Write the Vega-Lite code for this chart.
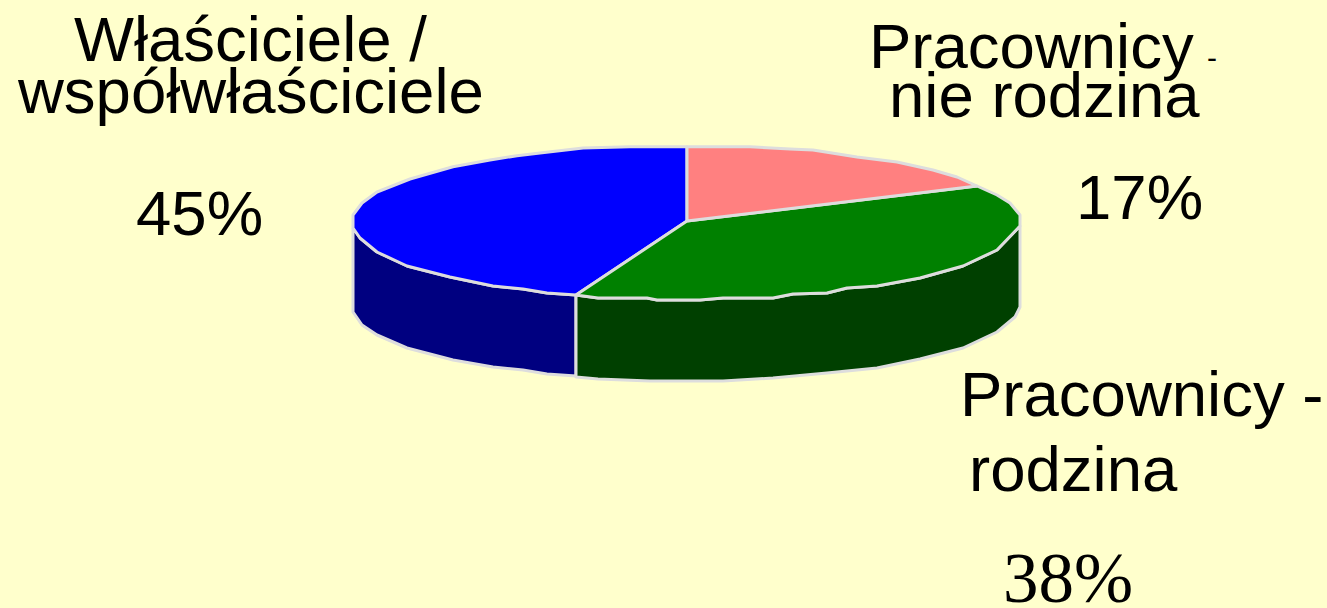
{"$schema":"https://vega.github.io/schema/vega-lite/v6.json","width":1327,"height":608,"padding":0,"autosize":{"type":"none"},"background":"#FFFFCC","view":{"stroke":null},"layer":[{"data":{"values":[
{"part":"a blue side","i":1,"x":353,"y":228},{"part":"a blue side","i":2,"x":360,"y":238},{"part":"a blue side","i":3,"x":377,"y":252},{"part":"a blue side","i":4,"x":407,"y":266},{"part":"a blue side","i":5,"x":450,"y":277},{"part":"a blue side","i":6,"x":493,"y":286},{"part":"a blue side","i":7,"x":523,"y":289},{"part":"a blue side","i":8,"x":547,"y":293},{"part":"a blue side","i":9,"x":576,"y":295},{"part":"a blue side","i":10,"x":576,"y":376},{"part":"a blue side","i":11,"x":547,"y":374},{"part":"a blue side","i":12,"x":523,"y":370},{"part":"a blue side","i":13,"x":493,"y":367},{"part":"a blue side","i":14,"x":453,"y":360},{"part":"a blue side","i":15,"x":407,"y":348},{"part":"a blue side","i":16,"x":377,"y":335},{"part":"a blue side","i":17,"x":362,"y":325},{"part":"a blue side","i":18,"x":353,"y":312},{"part":"a blue side","i":19,"x":353,"y":228},
{"part":"b green side","i":1,"x":576,"y":295},{"part":"b green side","i":2,"x":598,"y":298},{"part":"b green side","i":3,"x":647,"y":298},{"part":"b green side","i":4,"x":657,"y":300},{"part":"b green side","i":5,"x":700,"y":300},{"part":"b green side","i":6,"x":723,"y":298},{"part":"b green side","i":7,"x":773,"y":298},{"part":"b green side","i":8,"x":793,"y":294},{"part":"b green side","i":9,"x":827,"y":293},{"part":"b green side","i":10,"x":847,"y":288},{"part":"b green side","i":11,"x":877,"y":286},{"part":"b green side","i":12,"x":920,"y":278},{"part":"b green side","i":13,"x":963,"y":266},{"part":"b green side","i":14,"x":997,"y":250},{"part":"b green side","i":15,"x":1020,"y":226},{"part":"b green side","i":16,"x":1020,"y":307},{"part":"b green side","i":17,"x":1015,"y":317},{"part":"b green side","i":18,"x":997,"y":332},{"part":"b green side","i":19,"x":963,"y":348},{"part":"b green side","i":20,"x":920,"y":359},{"part":"b green side","i":21,"x":877,"y":368},{"part":"b green side","i":22,"x":827,"y":373},{"part":"b green side","i":23,"x":773,"y":378},{"part":"b green side","i":24,"x":723,"y":381},{"part":"b green side","i":25,"x":650,"y":381},{"part":"b green side","i":26,"x":598,"y":379},{"part":"b green side","i":27,"x":576,"y":377},{"part":"b green side","i":28,"x":576,"y":295},
{"part":"c blue 45%","i":1,"x":687,"y":221},{"part":"c blue 45%","i":2,"x":576,"y":295},{"part":"c blue 45%","i":3,"x":547,"y":293},{"part":"c blue 45%","i":4,"x":523,"y":289},{"part":"c blue 45%","i":5,"x":493,"y":286},{"part":"c blue 45%","i":6,"x":450,"y":277},{"part":"c blue 45%","i":7,"x":407,"y":266},{"part":"c blue 45%","i":8,"x":377,"y":252},{"part":"c blue 45%","i":9,"x":360,"y":238},{"part":"c blue 45%","i":10,"x":353,"y":228},{"part":"c blue 45%","i":11,"x":353,"y":215},{"part":"c blue 45%","i":12,"x":362,"y":203},{"part":"c blue 45%","i":13,"x":377,"y":192},{"part":"c blue 45%","i":14,"x":410,"y":179},{"part":"c blue 45%","i":15,"x":453,"y":166.7},{"part":"c blue 45%","i":16,"x":490,"y":160},{"part":"c blue 45%","i":17,"x":517,"y":155.7},{"part":"c blue 45%","i":18,"x":540,"y":153},{"part":"c blue 45%","i":19,"x":583,"y":148},{"part":"c blue 45%","i":20,"x":630,"y":146.7},{"part":"c blue 45%","i":21,"x":687,"y":146.7},{"part":"c blue 45%","i":22,"x":687,"y":221},
{"part":"d green 38%","i":1,"x":687,"y":221},{"part":"d green 38%","i":2,"x":977,"y":186},{"part":"d green 38%","i":3,"x":997,"y":195},{"part":"d green 38%","i":4,"x":1010,"y":203},{"part":"d green 38%","i":5,"x":1020,"y":215},{"part":"d green 38%","i":6,"x":1020,"y":226},{"part":"d green 38%","i":7,"x":997,"y":250},{"part":"d green 38%","i":8,"x":963,"y":266},{"part":"d green 38%","i":9,"x":920,"y":278},{"part":"d green 38%","i":10,"x":877,"y":286},{"part":"d green 38%","i":11,"x":847,"y":288},{"part":"d green 38%","i":12,"x":827,"y":293},{"part":"d green 38%","i":13,"x":793,"y":294},{"part":"d green 38%","i":14,"x":773,"y":298},{"part":"d green 38%","i":15,"x":723,"y":298},{"part":"d green 38%","i":16,"x":700,"y":300},{"part":"d green 38%","i":17,"x":657,"y":300},{"part":"d green 38%","i":18,"x":647,"y":298},{"part":"d green 38%","i":19,"x":598,"y":298},{"part":"d green 38%","i":20,"x":576,"y":295},{"part":"d green 38%","i":21,"x":687,"y":221},
{"part":"e pink 17%","i":1,"x":687,"y":221},{"part":"e pink 17%","i":2,"x":687,"y":146.7},{"part":"e pink 17%","i":3,"x":750,"y":146.7},{"part":"e pink 17%","i":4,"x":790,"y":149},{"part":"e pink 17%","i":5,"x":813,"y":150},{"part":"e pink 17%","i":6,"x":857,"y":157},{"part":"e pink 17%","i":7,"x":897,"y":162},{"part":"e pink 17%","i":8,"x":933,"y":170},{"part":"e pink 17%","i":9,"x":957,"y":177},{"part":"e pink 17%","i":10,"x":977,"y":186},{"part":"e pink 17%","i":11,"x":687,"y":221}
]},"mark":{"type":"line","stroke":"#DDDDDD","strokeWidth":3,"strokeJoin":"round","interpolate":"linear"},"encoding":{"x":{"field":"x","type":"quantitative","scale":{"domain":[0,1327],"nice":false,"zero":false},"axis":null},"y":{"field":"y","type":"quantitative","scale":{"domain":[608,0],"nice":false,"zero":false},"axis":null},"order":{"field":"i","type":"quantitative"},"detail":{"field":"part"},"fill":{"field":"part","type":"nominal","legend":null,"scale":{"domain":["a blue side","b green side","c blue 45%","d green 38%","e pink 17%"],"range":["#000080","#004000","#0000FF","#008000","#FF8080"]}}}},
{"data":{"values":[{"t":"Właściciele /","x":74,"y":61},{"t":"współwłaściciele","x":18,"y":113},{"t":"45%","x":136,"y":235},{"t":"Pracownicy","x":869,"y":68},{"t":"nie rodzina","x":889,"y":117},{"t":"17%","x":1076,"y":219},{"t":"Pracownicy -","x":960,"y":416},{"t":"rodzina","x":969,"y":491}]},"mark":{"type":"text","font":"Liberation Sans","fontSize":63.5,"align":"left","baseline":"alphabetic","fill":"#000000"},"encoding":{"x":{"field":"x","type":"quantitative","scale":{"domain":[0,1327],"nice":false,"zero":false},"axis":null},"y":{"field":"y","type":"quantitative","scale":{"domain":[608,0],"nice":false,"zero":false},"axis":null},"text":{"field":"t"}}},
{"data":{"values":[{"t":"-","x":1207,"y":68}]},"mark":{"type":"text","font":"Liberation Sans","fontSize":30,"align":"left","baseline":"alphabetic","fill":"#000000"},"encoding":{"x":{"field":"x","type":"quantitative","scale":{"domain":[0,1327],"nice":false,"zero":false},"axis":null},"y":{"field":"y","type":"quantitative","scale":{"domain":[608,0],"nice":false,"zero":false},"axis":null},"text":{"field":"t"}}},
{"data":{"values":[{"t":"38%","x":1003,"y":602}]},"mark":{"type":"text","font":"Liberation Serif","fontSize":71,"align":"left","baseline":"alphabetic","fill":"#000000"},"encoding":{"x":{"field":"x","type":"quantitative","scale":{"domain":[0,1327],"nice":false,"zero":false},"axis":null},"y":{"field":"y","type":"quantitative","scale":{"domain":[608,0],"nice":false,"zero":false},"axis":null},"text":{"field":"t"}}}
]}
